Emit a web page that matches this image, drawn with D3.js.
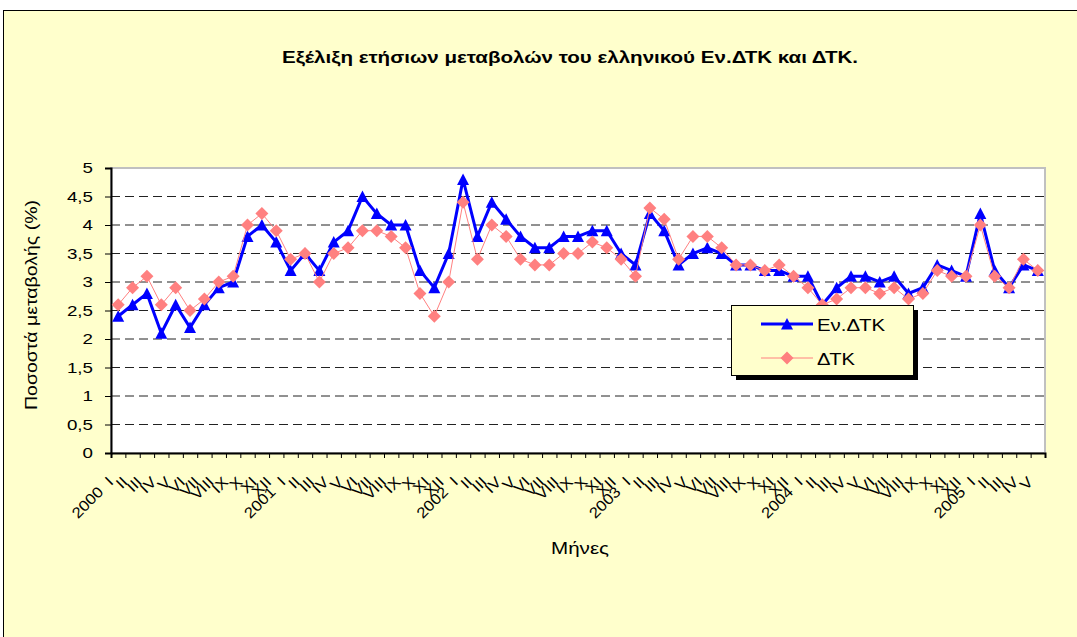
<!DOCTYPE html>
<html lang="el">
<head>
<meta charset="UTF-8">
<title>Εν.ΔΤΚ και ΔΤΚ</title>
<script src="https://d3js.org/d3.v7.min.js"></script>
<style>
  body { margin: 0; background: #fff; }
  text { font-family: "Liberation Sans", Arial, sans-serif; fill: #000; }
</style>
</head>
<body>
<svg id="chart" width="1077" height="637"></svg>
<script>
// data
var romans = ["I","II","III","IV","V","VI","VII","VIII","IX","X","XI","XII"];
var years = ["2000","2001","2002","2003","2004","2005"];
var evDtk = [2.4,2.6,2.8,2.1,2.6,2.2,2.6,2.9,3.0,3.8,4.0,3.7,
             3.2,3.5,3.2,3.7,3.9,4.5,4.2,4.0,4.0,3.2,2.9,3.5,
             4.8,3.8,4.4,4.1,3.8,3.6,3.6,3.8,3.8,3.9,3.9,3.5,
             3.3,4.2,3.9,3.3,3.5,3.6,3.5,3.3,3.3,3.2,3.2,3.1,
             3.1,2.6,2.9,3.1,3.1,3.0,3.1,2.8,2.9,3.3,3.2,3.1,
             4.2,3.2,2.9,3.3,3.2];
var dtk = [2.6,2.9,3.1,2.6,2.9,2.5,2.7,3.0,3.1,4.0,4.2,3.9,
           3.4,3.5,3.0,3.5,3.6,3.9,3.9,3.8,3.6,2.8,2.4,3.0,
           4.4,3.4,4.0,3.8,3.4,3.3,3.3,3.5,3.5,3.7,3.6,3.4,
           3.1,4.3,4.1,3.4,3.8,3.8,3.6,3.3,3.3,3.2,3.3,3.1,
           2.9,2.6,2.7,2.9,2.9,2.8,2.9,2.7,2.8,3.2,3.1,3.1,
           4.0,3.1,2.9,3.4,3.2];
var yTicks = [0,0.5,1,1.5,2,2.5,3,3.5,4,4.5,5];

// month labels: roman numeral, year in front of January
var labels = evDtk.map(function(d, i) {
  var m = romans[i % 12];
  return i % 12 == 0 ? years[i / 12] + "\u00A0\u00A0" + m : m;
});

var svg = d3.select("#chart");
var plotL = 111, plotR = 1045, plotT = 168, plotB = 453;

var x = d3.scaleLinear().domain([0, evDtk.length]).range([plotL, plotR]);
var y = d3.scaleLinear().domain([0, 5]).range([plotB, plotT]);

// chart area
svg.append("rect").attr("x", 3.5).attr("y", 10.5).attr("width", 1090).attr("height", 640)
  .attr("fill", "#FFFFCC").attr("stroke", "#000");

svg.append("rect").attr("x", plotL).attr("y", plotT).attr("width", plotR - plotL).attr("height", plotB - plotT)
  .attr("fill", "#fff").attr("stroke", "#c0c0c0").attr("stroke-width", 2);

// gridlines
svg.append("g").selectAll("line").data(yTicks.filter(function(d) { return d > 0 && d < 5; }))
  .enter().append("line")
  .attr("x1", plotL).attr("x2", plotR)
  .attr("y1", function(d) { return y(d); }).attr("y2", function(d) { return y(d); })
  .attr("stroke", "#222").attr("stroke-dasharray", "9,5");

// y axis
var yAxis = svg.append("g").attr("transform", "translate(" + plotL + ",0)")
  .call(d3.axisLeft(y).tickValues(yTicks).tickSize(6).tickPadding(8.4)
    .tickFormat(function(d) { return String(d).replace(".", ","); }));
yAxis.select(".domain").attr("stroke", "#000").attr("stroke-width", 2);
yAxis.selectAll("text").attr("font-size", 15).attr("font-family", "Liberation Sans, Arial, sans-serif")
  .attr("transform", "scale(1.25,1)");

// x axis, ticks between months
var xAxis = svg.append("g").attr("transform", "translate(0," + plotB + ")")
  .call(d3.axisBottom(x).tickValues(d3.range(evDtk.length + 1)).tickSize(5).tickFormat(""));
xAxis.select(".domain").attr("stroke", "#000").attr("stroke-width", 2);

svg.append("g").selectAll("text").data(labels).enter().append("text")
  .attr("transform", function(d, i) {
    return "translate(" + (x(i + 0.5) - 4) + "," + 483 + ") rotate(-45) scale(1.12,1)";
  })
  .attr("text-anchor", "end").attr("font-size", 15)
  .text(function(d) { return d; });

// series
var line = d3.line().x(function(d, i) { return x(i + 0.5); }).y(function(d) { return y(d); });
var triangle = "M0,-6L6,5.5L-6,5.5Z";
var diamond = "M0,-6.5L6.5,0L0,6.5L-6.5,0Z";

svg.append("path").datum(evDtk).attr("d", line)
  .attr("fill", "none").attr("stroke", "#0000FF").attr("stroke-width", 3);
svg.append("g").selectAll("path").data(evDtk).enter().append("path")
  .attr("d", triangle).attr("fill", "#0000FF")
  .attr("transform", function(d, i) { return "translate(" + x(i + 0.5) + "," + y(d) + ")"; });

svg.append("path").datum(dtk).attr("d", line)
  .attr("fill", "none").attr("stroke", "#FF8080").attr("stroke-width", 1);
svg.append("g").selectAll("path").data(dtk).enter().append("path")
  .attr("d", diamond).attr("fill", "#FF8080")
  .attr("transform", function(d, i) { return "translate(" + x(i + 0.5) + "," + y(d) + ")"; });

// titles
svg.append("text").attr("x", 570).attr("y", 63).attr("text-anchor", "middle")
  .attr("font-size", 16).attr("font-weight", "bold")
  .attr("textLength", 576).attr("lengthAdjust", "spacingAndGlyphs")
  .text("Εξέλιξη ετήσιων μεταβολών του ελληνικού Εν.ΔΤΚ και ΔΤΚ.");

svg.append("text").attr("transform", "translate(37,305) rotate(-90)").attr("text-anchor", "middle")
  .attr("font-size", 16).attr("textLength", 210).attr("lengthAdjust", "spacingAndGlyphs")
  .text("Ποσοστά μεταβολής (%)");

svg.append("text").attr("x", 580).attr("y", 554).attr("text-anchor", "middle")
  .attr("font-size", 16).attr("textLength", 58).attr("lengthAdjust", "spacingAndGlyphs")
  .text("Μήνες");

// legend
var lg = svg.append("g").attr("transform", "translate(731,305)");
lg.append("rect").attr("x", 5).attr("y", 5).attr("width", 182).attr("height", 70).attr("fill", "#000");
lg.append("rect").attr("x", 0.5).attr("y", 0.5).attr("width", 182).attr("height", 70)
  .attr("fill", "#FFFFCC").attr("stroke", "#000");

var legendItems = [
  {name: "Εν.ΔΤΚ", color: "#0000FF", width: 3, marker: triangle, len: 68},
  {name: "ΔΤΚ", color: "#FF8080", width: 1, marker: diamond, len: 38}
];
var item = lg.selectAll(".item").data(legendItems).enter().append("g")
  .attr("transform", function(d, i) { return "translate(0," + (19 + i * 34) + ")"; });
item.append("line").attr("x1", 30).attr("x2", 82)
  .attr("stroke", function(d) { return d.color; }).attr("stroke-width", function(d) { return d.width; });
item.append("path").attr("d", function(d) { return d.marker; }).attr("fill", function(d) { return d.color; })
  .attr("transform", "translate(56,0)");
item.append("text").attr("x", 86).attr("y", 6.5).attr("font-size", 17)
  .attr("textLength", function(d) { return d.len; }).attr("lengthAdjust", "spacingAndGlyphs")
  .text(function(d) { return d.name; });
</script>
</body>
</html>
